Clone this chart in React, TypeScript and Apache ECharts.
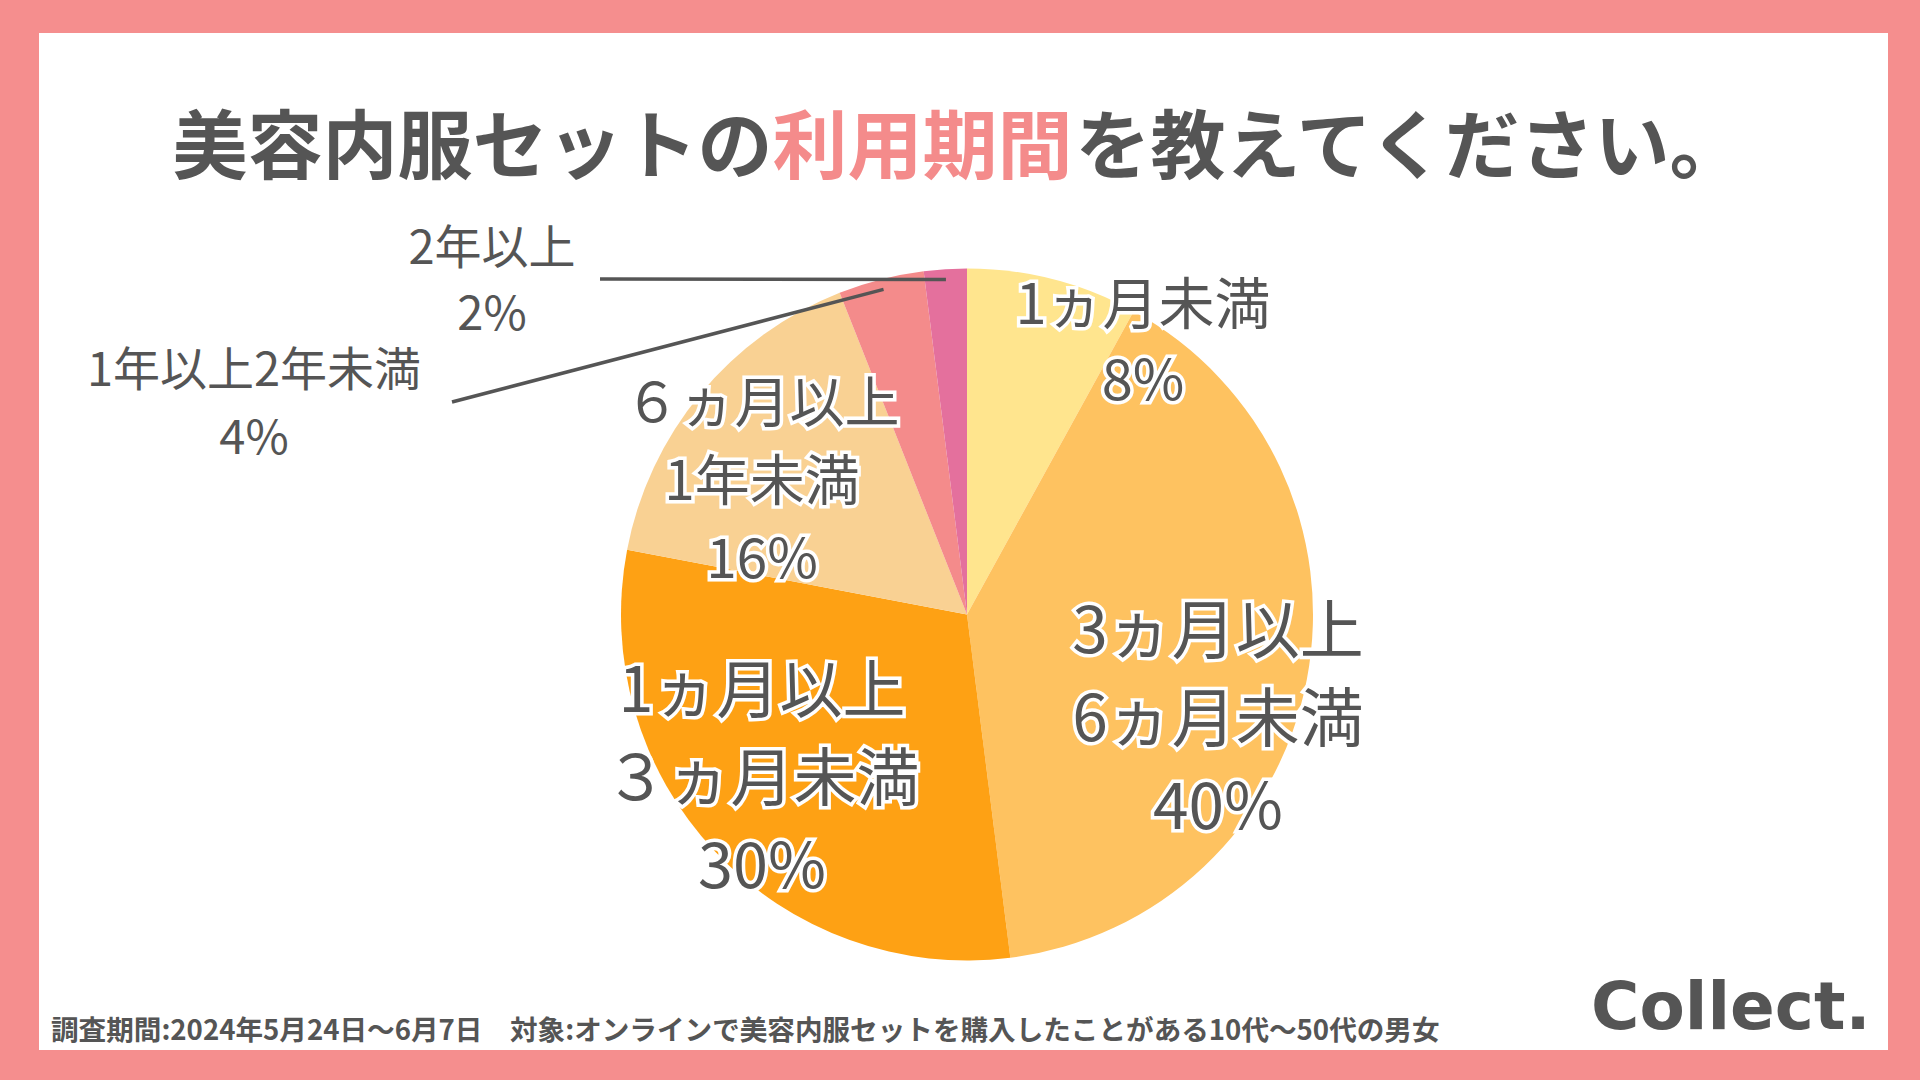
import React, { useEffect, useRef } from 'react';
import * as echarts from 'echarts';

// ---- data ----
const categories = ['1ヵ月未満', '3ヵ月以上6ヵ月未満', '1ヵ月以上3ヵ月未満', '6ヵ月以上1年未満', '1年以上2年未満', '2年以上'];
const labelNames = ['1ヵ月未満', '3ヵ月以上\n6ヵ月未満', '1ヵ月以上\n３ヵ月未満', '６ヵ月以上\n1年未満', '1年以上2年未満', '2年以上'];
const values = [8, 40, 30, 16, 4, 2];
const colors = ['#FFE58E', '#FEC260', '#FEA114', '#F9D193', '#F48B8B', '#E4709D'];

const titleA = '美容内服セットの';
const titleB = '利用期間';
const titleC = 'を教えてください。';
const footer = '調査期間:2024年5月24日〜6月7日　対象:オンラインで美容内服セットを購入したことがある10代〜50代の男女';
const logo = 'Collect.';

// ---- layout ----
const FONT = '"Noto Sans CJK JP", "Noto Sans", sans-serif';
const TEXT = '#555555';
const PINK = '#F58E8E';
const CENTER: [number, number] = [967, 614.5];
const RADIUS = 346;
const labelPos: [number, number][] = [[1143, 337], [1218, 713], [762, 772], [762, 476], [254, 399], [492, 276]];
const labelFont = [56, 64, 63, 55, 47, 47];
const labelLH = [76, 88, 88, 78, 68, 66];
const outside = [false, false, false, false, true, true];
const lineEnds: ([number, number] | null)[] = [null, null, null, null, [452, 402], [600, 279]];

export default function App() {
  const ref = useRef<HTMLDivElement>(null);
  useEffect(() => {
    document.body.style.margin = '0';
    const chart = echarts.init(ref.current!, null, { renderer: 'svg' });
    const total = values.reduce((a, b) => a + b, 0);
    const cum: number[] = [];
    values.reduce((acc, v, i) => { cum[i] = acc; return acc + v; }, 0);

    const data = values.map((v, i) => ({
      value: v,
      name: categories[i],
      itemStyle: { color: colors[i] },
      label: outside[i]
        ? {
            position: 'outside',
            fontSize: labelFont[i],
            lineHeight: labelLH[i],
            color: TEXT,
            textBorderWidth: 0,
          }
        : {
            position: 'inside',
            fontSize: labelFont[i],
            lineHeight: labelLH[i],
            color: TEXT,
            textBorderColor: '#ffffff',
            textBorderWidth: 7,
          },
      labelLine: { show: false },
    }));

    // leader lines for the outside labels, starting inside each slice at its mid angle
    const leaders = values
      .map((v, i) => {
        const end = lineEnds[i];
        if (!end) return null;
        const mid = ((cum[i] + v / 2) / total) * Math.PI * 2;
        const s = [CENTER[0] + 0.97 * RADIUS * Math.sin(mid), CENTER[1] - 0.97 * RADIUS * Math.cos(mid)];
        return {
          type: 'polyline',
          z: 100,
          shape: { points: [s, end] },
          style: { stroke: TEXT, lineWidth: 3.5, fill: null },
        };
      })
      .filter(Boolean);

    chart.setOption({
      animation: false,
      backgroundColor: PINK,
      graphic: [
        { type: 'rect', z: -10, shape: { x: 39, y: 33, width: 1849, height: 1017 }, style: { fill: '#ffffff' } },
        {
          type: 'text',
          x: 960,
          y: 140,
          style: {
            text: `{a|${titleA}}{b|${titleB}}{a|${titleC}}`,
            align: 'center',
            verticalAlign: 'middle',
            rich: {
              a: { fontSize: 75, fontWeight: 'bold', fontFamily: FONT, fill: TEXT, color: TEXT },
              b: { fontSize: 75, fontWeight: 'bold', fontFamily: FONT, fill: '#F48B8B', color: '#F48B8B' },
            },
          },
        },
        {
          type: 'text',
          x: 51,
          y: 1028,
          style: {
            text: footer,
            align: 'left',
            verticalAlign: 'middle',
            fontSize: 27.6,
            fontWeight: 'bold',
            fontFamily: FONT,
            fill: TEXT,
          },
        },
        {
          type: 'text',
          x: 1591,
          y: 1006,
          style: {
            text: logo,
            align: 'left',
            verticalAlign: 'middle',
            fontSize: 66,
            fontWeight: 'bold',
            fontFamily: '"DejaVu Sans", sans-serif',
            fill: TEXT,
          },
        },
        ...leaders,
      ],
      series: [
        {
          type: 'pie',
          silent: true,
          center: CENTER,
          radius: RADIUS,
          startAngle: 90,
          clockwise: true,
          label: {
            show: true,
            fontFamily: FONT,
            formatter: (p: any) => `${labelNames[p.dataIndex]}\n${p.value}%`,
          },
          emphasis: { disabled: true },
          data,
          labelLayout: (p: any) => {
            const i = p.dataIndex;
            return { x: labelPos[i][0], y: labelPos[i][1], align: 'center', verticalAlign: 'middle' };
          },
        },
      ],
    });
    return () => chart.dispose();
  }, []);
  return <div ref={ref} style={{ width: 1920, height: 1080 }} />;
}
